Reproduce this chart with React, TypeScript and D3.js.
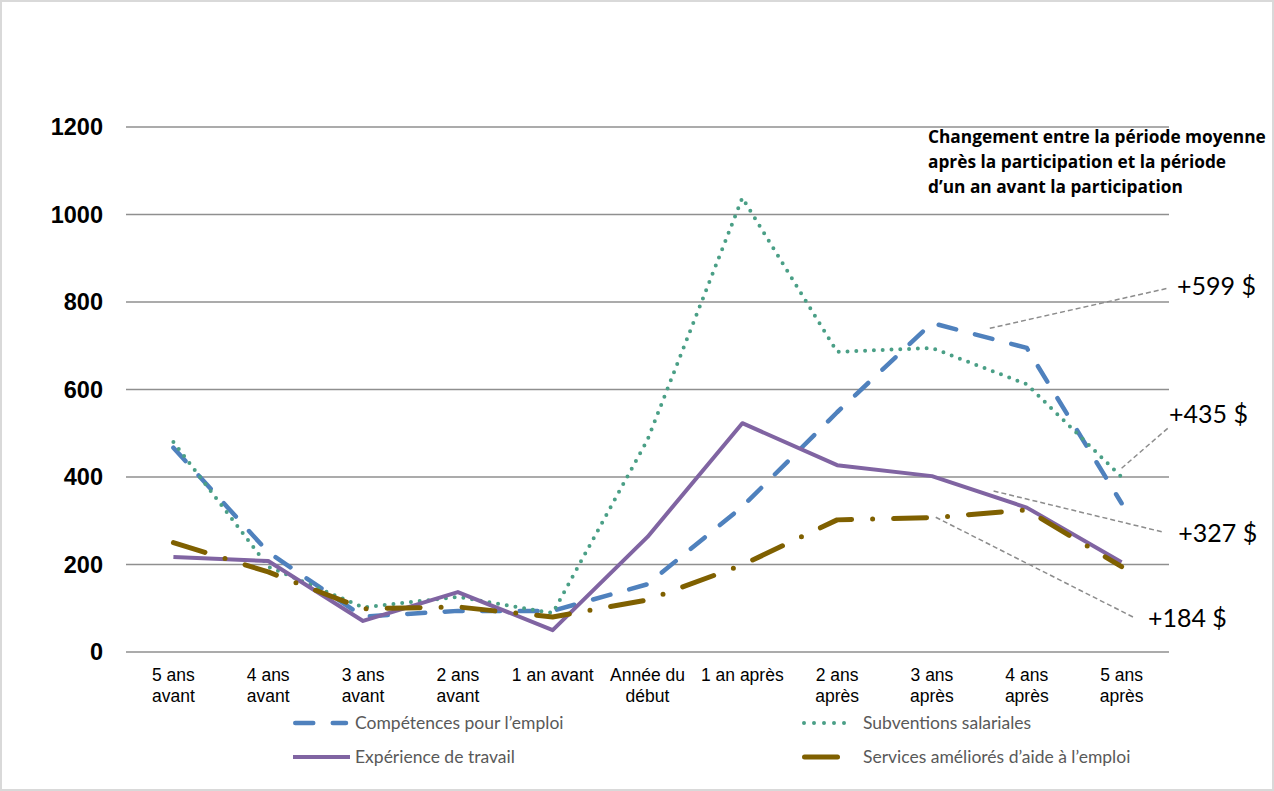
import React from "react";
import * as d3 from "d3";

const categories: string[][] = [
  ["5 ans", "avant"],
  ["4 ans", "avant"],
  ["3 ans", "avant"],
  ["2 ans", "avant"],
  ["1 an avant"],
  ["Année du", "début"],
  ["1 an après"],
  ["2 ans", "après"],
  ["3 ans", "après"],
  ["4 ans", "après"],
  ["5 ans", "après"],
];

const yTicks = [0, 200, 400, 600, 800, 1000, 1200];

const competences = [467, 228, 81, 94, 94, 155, 332, 548, 752, 695, 340];
const subventions = [480, 195, 102, 126, 89, 485, 1038, 686, 695, 612, 400];
const experience = [217, 208, 71, 137, 50, 263, 523, 427, 402, 330, 205];
const services = [250, 183, 99, 103, 80, 119, 199, 302, 307, 325, 195];

const seriesNames = [
  "Compétences pour l’emploi",
  "Subventions salariales",
  "Expérience de travail",
  "Services améliorés d’aide à l’emploi",
];

const noteLines = [
  "Changement entre la période moyenne",
  "après la participation et la période",
  "d’un an avant la participation",
];

// annotations: from / to in data space (category index, value)
const annLabels = ["+599 $", "+435 $", "+327 $", "+184 $"];
const annFrom: [number, number][] = [[8.61, 740], [10.0, 420], [8.65, 368], [8.04, 308]];
const annTo: [number, number][] = [[10.5, 832], [10.49, 512], [10.44, 274], [10.12, 80]];

const W = 1274;
const H = 791;
const M = { left: 126, right: 1169, top: 127, bottom: 652 };

export default function App() {
  const x = d3
    .scaleBand<number>()
    .domain(d3.range(categories.length))
    .range([M.left, M.right]);
  const xc = (i: number) => (x(i) ?? 0) + x.bandwidth() / 2;
  const xi = (i: number) => M.left + x.step() * (i + 0.5);
  const y = d3.scaleLinear().domain([0, 1200]).range([M.bottom, M.top]);
  const line = d3
    .line<number>()
    .x((_, i) => xc(i))
    .y((d) => y(d));

  const styles = [
    { data: competences, color: "#4f81bd", width: 4.5, dash: "18 19.5" },
    { data: subventions, color: "#4a9f86", width: 4, dash: "0 8.8" },
    { data: experience, color: "#8064a2", width: 4, dash: "" },
    { data: services, color: "#7f6000", width: 5, dash: "33 21 0 21" },
  ];

  const legendPos = [
    { x: 293, y: 723, tx: 355 },
    { x: 802, y: 723, tx: 863 },
    { x: 293, y: 757, tx: 355 },
    { x: 802, y: 757, tx: 863 },
  ];
  const legendEnd = [346, 854, 350, 852];

  const annText = [
    { dx: 8, dy: 7 },
    { dx: 1, dy: -5 },
    { dx: 15, dy: 10 },
    { dx: 15, dy: 10 },
  ];

  return (
    <svg
      width={W}
      height={H}
      style={{ position: "absolute", left: 0, top: 0, background: "#fff" }}
    >
      <rect x={1} y={1} width={W - 2} height={H - 2} fill="#fff" stroke="#d9d9d9" strokeWidth={2} />
      {yTicks.map((t) => (
        <g key={t}>
          <line x1={M.left} x2={M.right} y1={y(t)} y2={y(t)} stroke="#8f8f8f" strokeWidth={1.5} />
          <text
            x={103}
            y={y(t)}
            textAnchor="end"
            dominantBaseline="central"
            fontFamily="'Liberation Sans', Arial, sans-serif"
            fontWeight="bold"
            fontSize={23.5}
            fill="#000"
          >
            {t}
          </text>
        </g>
      ))}
      {categories.map((lines, i) =>
        lines.map((l, k) => (
          <text
            key={i + "-" + k}
            x={xc(i)}
            y={681 + k * 21}
            textAnchor="middle"
            fontFamily="'Liberation Sans', Arial, sans-serif"
            fontSize={17.5}
            fill="#000"
          >
            {l}
          </text>
        ))
      )}
      {styles.map((s, k) => (
        <path
          key={k}
          d={line(s.data) ?? ""}
          fill="none"
          stroke={s.color}
          strokeWidth={s.width}
          strokeDasharray={s.dash || undefined}
          strokeLinecap={s.dash ? "round" : "butt"}
          strokeLinejoin="round"
        />
      ))}
      {annLabels.map((lab, k) => {
        const x1 = xi(annFrom[k][0]);
        const y1 = y(annFrom[k][1]);
        const x2 = xi(annTo[k][0]);
        const y2 = y(annTo[k][1]);
        return (
          <g key={lab}>
            <line x1={x1} y1={y1} x2={x2} y2={y2} stroke="#8c8c8c" strokeWidth={1.5} strokeDasharray="5 3" />
            <text
              x={x2 + annText[k].dx}
              y={y2 + annText[k].dy}
              fontFamily="Lato, 'Open Sans', sans-serif"
              fontSize={25}
              fill="#000"
            >
              {lab}
            </text>
          </g>
        );
      })}
      {noteLines.map((l, k) => (
        <text
          key={k}
          x={928}
          y={143 + k * 25}
          fontFamily="'Open Sans', Lato, sans-serif"
          fontWeight="bold"
          fontSize={17.3}
          fill="#000"
        >
          {l}
        </text>
      ))}
      {seriesNames.map((n, k) => {
        const p = legendPos[k];
        const s = styles[k];
        const cap = s.dash ? s.width / 2 : 0;
        return (
          <g key={n}>
            <line
              x1={p.x + cap}
              x2={legendEnd[k]}
              y1={p.y}
              y2={p.y}
              stroke={s.color}
              strokeWidth={s.width}
              strokeDasharray={k === 1 ? "0 10" : s.dash || undefined}
              strokeLinecap={s.dash ? "round" : "butt"}
            />
            <text
              x={p.tx}
              y={p.y + 6}
              fontFamily="Lato, 'Open Sans', sans-serif"
              fontSize={17.5}
              fill="#595959"
            >
              {n}
            </text>
          </g>
        );
      })}
    </svg>
  );
}
